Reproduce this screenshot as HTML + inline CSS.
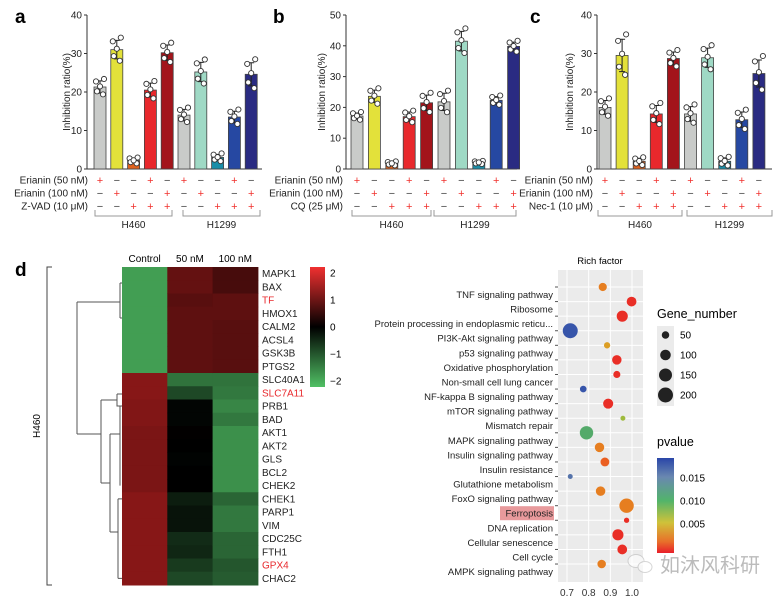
<!DOCTYPE html>
<html><head><meta charset="utf-8"><style>
body{margin:0;background:#fff;}
svg{display:block;font-family:"Liberation Sans","Noto Sans CJK SC",sans-serif;}
</style></head><body>
<svg id="fig" width="778" height="599" viewBox="0 0 778 599">
<rect width="778" height="599" fill="#fff"/>
</svg>
<script>
// ---------- bar chart data ----------
const barColors = ["#c9cbc9","#e3e13a","#e0621e","#e8282c","#a3141b","#c9cbc9","#9fd9c5","#1a8ea8","#2648a2","#2a2b82"];
const aVals = [21.3,31.0,2.2,20.5,30.2,14.0,25.2,3.0,13.5,24.6];
const aSd = [1.6,2.4,0.6,1.8,2.0,1.5,2.5,0.8,1.5,3.0];
const bVals = [17.2,23.6,1.8,17.0,21.5,21.8,41.5,2.1,22.3,39.8];
const bSd = [1.0,2.0,0.5,1.5,2.5,2.8,3.2,0.4,1.2,1.4];
const cVals = [16.0,29.5,2.0,14.3,28.7,14.3,28.9,2.0,12.8,24.8];
const cSd = [1.8,4.2,0.8,2.2,1.7,1.9,2.5,0.9,2.0,3.5];
const aTicks = [0,10,20,30,40];
const bTicks = [0,10,20,30,40,50];
const cTicks = [0,10,20,30,40];
const row50 = ["+","−","−","+","−","+","−","−","+","−"];
const row100 = ["−","+","−","−","+","−","+","−","−","+"];
const rowInh = ["−","−","+","+","+","−","−","+","+","+"];
const jx = [-4,4,-3,3,0];
const jy = [0.9,1.3,-0.7,-1.2,0.1];

// ---------- heatmap data ----------
const genes = ["MAPK1","BAX","TF","HMOX1","CALM2","ACSL4","GSK3B","PTGS2","SLC40A1","SLC7A11","PRB1","BAD","AKT1","AKT2","GLS","BCL2","CHEK2","CHEK1","PARP1","VIM","CDC25C","FTH1","GPX4","CHAC2"];
const redGenes = ["TF","SLC7A11","GPX4"];
const hmCols = ["Control","50 nM","100 nM"];
const hmControl = [-1.65,-1.65,-1.65,-1.65,-1.65,-1.65,-1.65,-1.65,1.15,1.15,1.1,1.1,1.05,1.05,1.05,1.05,1.05,1.15,1.15,1.15,1.15,1.15,1.15,1.15];
const hm50 = [0.85,0.85,0.75,0.8,0.8,0.8,0.8,0.8,-1.2,-0.75,-0.05,-0.05,0.02,0,-0.03,0,0,-0.3,-0.2,-0.2,-0.45,-0.4,-0.6,-0.75];
const hm100 = [0.6,0.6,0.8,0.8,0.75,0.75,0.75,0.75,-1.2,-1.25,-1.4,-1.25,-1.5,-1.5,-1.5,-1.5,-1.5,-1.05,-1.25,-1.25,-1.05,-1.05,-0.9,-0.95];
const hmTicks = [2,1,0,-1,-2];

// ---------- dot plot data ----------
const pathways = ["TNF signaling  pathway","Ribosome","Protein processing in endoplasmic reticu...","PI3K-Akt signaling pathway","p53 signaling pathway","Oxidative phosphorylation","Non-small cell lung cancer","NF-kappa B signaling pathway","mTOR signaling pathway","Mismatch repair","MAPK signaling pathway","Insulin signaling pathway","Insulin resistance","Glutathione metabolism","FoxO signaling pathway","Ferroptosis","DNA replication","Cellular senescence","Cell cycle","AMPK signaling pathway"];
const richFactor = [0.865,0.998,0.955,0.715,0.885,0.93,0.93,0.775,0.89,0.958,0.79,0.85,0.875,0.715,0.855,0.975,0.975,0.935,0.955,0.86];
const geneNumber = [60,85,110,200,35,80,45,40,90,22,160,80,70,22,80,185,25,110,85,65];
const pValue = [0.003,0.0005,0.0005,0.018,0.004,0.0005,0.0005,0.018,0.0005,0.007,0.011,0.003,0.002,0.016,0.003,0.003,0.0005,0.0005,0.0005,0.003];
const rfTicks = [0.7,0.8,0.9,1.0];
const sizeLegend = [50,100,150,200];
const pTicks = [0.015,0.010,0.005];

const NS="http://www.w3.org/2000/svg";
const svg=document.getElementById("fig");
function el(tag,attrs,parent){const e=document.createElementNS(NS,tag);for(const k in attrs)e.setAttribute(k,attrs[k]);(parent||svg).appendChild(e);return e;}
function txt(s,attrs,parent){const t=el("text",attrs,parent);t.textContent=s;return t;}

// ---------- bar panels ----------
function barPanel(cfg){
  const g=el("g",{});
  
  
  const y0=169,yTop=15,max=cfg.ticks[cfg.ticks.length-1];
  const ys=v=>y0-(v/max)*(y0-yTop);
  const xs=i=>cfg.x0+i*cfg.step;
  const lt=txt(cfg.letter,{x:cfg.lx,y:23,"font-size":19,"font-weight":"bold",fill:"#000"},g);
  
  
  const ya=el("line",{x1:cfg.ax,y1:yTop,x2:cfg.ax,y2:y0,stroke:"#333","stroke-width":1},g);
  
  
  const xa=el("line",{x1:cfg.ax,y1:y0,x2:cfg.axEnd,y2:y0,stroke:"#333","stroke-width":1},g);
  
  
  cfg.ticks.forEach(t=>{
    el("line",{x1:cfg.ax-3,y1:ys(t),x2:cfg.ax,y2:ys(t),stroke:"#333"},g);
    const tl=txt(String(t),{x:cfg.ax-5,y:ys(t)+3.5,"font-size":10,"text-anchor":"end",fill:"#222"},g);
    
    
  });
  const yt=txt("Inhibition ratio(%)",{x:0,y:0,"font-size":10,"text-anchor":"middle",fill:"#222",transform:`translate(${cfg.tx},92) rotate(-90)`},g);
  
  
  cfg.vals.forEach((v,i)=>{
    const cx=xs(i),w=12;
    const b=el("rect",{x:cx-w/2,y:ys(v),width:w,height:y0-ys(v),fill:barColors[i],stroke:"#444","stroke-width":0.8},g);
    
    
    const sd=cfg.sd[i];
    const eb=el("path",{d:`M${cx},${ys(v+sd)}V${ys(v-sd)}M${cx-3},${ys(v+sd)}H${cx+3}M${cx-3},${ys(v-sd)}H${cx+3}`,stroke:"#222","stroke-width":1,fill:"none"},g);
    
    
    for(let k=0;k<5;k++){
      const p=el("circle",{cx:cx+jx[k],cy:ys(v+jy[k]*sd),r:2.6,fill:"#fff",stroke:"#333","stroke-width":0.9},g);
      
      
    }
  });
  const rows=[[cfg.r1,row50,180],[cfg.r2,row100,193],[cfg.r3,rowInh,206]];
  rows.forEach(r=>{
    const rl=txt(r[0],{x:cfg.labX,y:r[2]+3.5,"font-size":10,"text-anchor":"end",fill:"#222"},g);
    
    
    r[1].forEach((s,i)=>{
      const st=txt(s,{x:xs(i),y:r[2]+4,"font-size":11,"text-anchor":"middle",fill:s==="+"?"#f0302c":"#444"},g);
      
      
    });
  });
  cfg.groups.forEach(gr=>{
    const br=el("path",{d:`M${gr[0]},210V216H${gr[1]}V210`,stroke:"#999",fill:"none","stroke-width":1},g);
    
    
    const gl=txt(gr[2],{x:(gr[0]+gr[1])/2,y:228,"font-size":10,"text-anchor":"middle",fill:"#222"},g);
    
    
  });
}
barPanel({name:"panel-a",letter:"a",lx:15,ax:87,axEnd:262,x0:100,step:16.8,ticks:aTicks,vals:aVals,sd:aSd,tx:70,labX:88,r1:"Erianin (50 nM)",r2:"Erianin (100 nM)",r3:"Z-VAD (10 μM)",groups:[[95,172,"H460"],[183,260,"H1299"]]});
barPanel({name:"panel-b",letter:"b",lx:273,ax:346,axEnd:517,x0:357,step:17.4,ticks:bTicks,vals:bVals,sd:bSd,tx:325,labX:343,r1:"Erianin (50 nM)",r2:"Erianin (100 nM)",r3:"CQ (25 μM)",groups:[[352,431,"H460"],[434,516,"H1299"]]});
barPanel({name:"panel-c",letter:"c",lx:530,ax:597,axEnd:772,x0:605,step:17.1,ticks:cTicks,vals:cVals,sd:cSd,tx:573,labX:593,r1:"Erianin (50 nM)",r2:"Erianin (100 nM)",r3:"Nec-1 (10 μM)",groups:[[598,682,"H460"],[687,772,"H1299"]]});

// ---------- heatmap ----------
(function(){
  const g=el("g",{});
  
  
  const d=txt("d",{x:15,y:276,"font-size":19,"font-weight":"bold"},g);
  
  
  const hx=122,cw=45.3,hy=267,rh=13.25;
  function col(v){
    const t=Math.max(-2,Math.min(2,v))/2;
    if(t>=0) return `rgb(${Math.round(235*t)},${Math.round(40*t)},${Math.round(40*t)})`;
    const a=-t; return `rgb(${Math.round(80*a)},${Math.round(192*a)},${Math.round(100*a)})`;
  }
  const cols=[hmControl,hm50,hm100];
  cols.forEach((arr,c)=>{
    const h=txt(hmCols[c],{x:hx+cw*c+cw/2,y:262,"font-size":10,"text-anchor":"middle"},g);
    
    
    arr.forEach((v,r)=>{
      const cell=el("rect",{x:hx+cw*c,y:hy+r*rh,width:cw+0.5,height:rh+0.5,fill:col(v)},g);
      
      
    });
  });
  genes.forEach((gn,r)=>{
    const t=txt(gn,{x:262,y:hy+r*rh+rh/2+3.5,"font-size":10,fill:redGenes.includes(gn)?"#e8282c":"#222"},g);
    
    
  });
  // colorbar
  const defs=el("defs",{},g);
  const lg=el("linearGradient",{id:"hmg",x1:0,y1:0,x2:0,y2:1},defs);
  [[0,"#f03030"],[0.5,"#000"],[1,"#50c064"]].forEach(s=>el("stop",{offset:s[0],"stop-color":s[1]},lg));
  const cb=el("rect",{x:310,y:267,width:15,height:120,fill:"url(#hmg)"},g);
  
  
  hmTicks.forEach(t=>{
    const y=267+6+(2-t)/4*108;
    const tl=txt(t<0?"−"+(-t):String(t),{x:330,y:y+3.5,"font-size":10},g);
    
    
  });
  // bracket + H460
  const br=el("path",{d:"M52,267H47V585H52",stroke:"#444",fill:"none"},g);
  
  
  const hl=txt("H460",{x:0,y:0,"font-size":10,"text-anchor":"middle",transform:"translate(40,426) rotate(-90)"},g);
  
  
  // dendrogram
  const yr=r=>hy+r*rh+rh/2;
  const dd=[
    `M77,302V434`,`M77,302H120`,`M77,434H101`,
    `M120,283V318`,`M120,283H122`,`M120,318H122`,
    `M101,400V483`,`M101,400H117`,`M101,483H110`,
    `M117,394V406H122`,`M117,394H122`,
    `M110,434V532`,`M110,434H120`,`M110,532H118`,
    `M120,${yr(10)}V${yr(16)}`,`M118,${yr(17)}V${yr(23)}`,`M118,${yr(17)}H122`,`M118,${yr(23)}H122`
  ];
  const dp=el("path",{d:dd.join(""),stroke:"#555",fill:"none","stroke-width":1},g);
  
  
})();

// ---------- dot plot ----------
(function(){
  const g=el("g",{});
  
  
  const px0=558,px1=643,py0=270,py1=582;
  const xs=v=>567+(v-0.7)/0.3*65;
  const yRow=i=>287+i*14.58;
  const bg=el("rect",{x:px0,y:py0,width:px1-px0,height:py1-py0,fill:"#ebebeb"},g);
  
  
  rfTicks.forEach(t=>{
    el("line",{x1:xs(t),y1:py0,x2:xs(t),y2:py1,stroke:"#fff","stroke-width":1},g);
    const tl=txt(t.toFixed(1),{x:xs(t),y:596,"font-size":10,"text-anchor":"middle",fill:"#333"},g);
    
    
  });
  pathways.forEach((p,i)=>{
    el("line",{x1:px0,y1:yRow(i),x2:px1,y2:yRow(i),stroke:"#fff","stroke-width":1},g);
    el("line",{x1:px0-3,y1:yRow(i),x2:px0,y2:yRow(i),stroke:"#555"},g);
    if(p==="Ferroptosis"){
      const hl=el("rect",{x:500,y:yRow(i)+0.5,width:54,height:14,fill:"#e89a9c"},g);
      
      
    }
    const t=txt(p,{x:553,y:yRow(i)+11,"font-size":9.5,"text-anchor":"end",fill:"#222"},g);
    
    
  });
  const title=txt("Rich factor",{x:600,y:264,"font-size":9.5,"text-anchor":"middle"},g);
  
  
  function pcol(p){
    const stops=[[0,[232,30,40]],[0.0025,[235,110,30]],[0.005,[210,190,40]],[0.010,[80,180,90]],[0.015,[100,130,170]],[0.019,[40,70,170]]];
    for(let k=1;k<stops.length;k++){ if(p<=stops[k][0]){const a=stops[k-1],b=stops[k],t=(p-a[0])/(b[0]-a[0]);return `rgb(${a[1].map((c,j)=>Math.round(c+(b[1][j]-c)*t)).join(",")})`;}}
    return "rgb(40,70,170)";
  }
  const rs=n=>Math.sqrt(n)*0.53;
  richFactor.forEach((v,i)=>{
    const c=el("circle",{cx:xs(v),cy:yRow(i),r:rs(geneNumber[i]),fill:pcol(pValue[i])},g);
    
    
  });
  // size legend
  const gt=txt("Gene_number",{x:657,y:318,"font-size":12.5},g);
  
  
  el("rect",{x:657,y:326,width:17,height:80,fill:"#ebebeb"},g);
  sizeLegend.forEach((s,k)=>{
    const y=335+k*20;
    const c=el("circle",{cx:665.5,cy:y,r:rs(s),fill:"#222"},g);
    
    
    txt(String(s),{x:680,y:y+3.5,"font-size":10},g);
  });
  const pt=txt("pvalue",{x:657,y:446,"font-size":12.5},g);
  
  
  const defs=el("defs",{},g);
  const lg=el("linearGradient",{id:"pg",x1:0,y1:0,x2:0,y2:1},defs);
  [[0,"#2a46a8"],[0.2,"#6a88b0"],[0.45,"#52b46a"],[0.68,"#cfc23a"],[0.88,"#e8702a"],[1,"#e81e2a"]].forEach(s=>el("stop",{offset:s[0],"stop-color":s[1]},lg));
  const cb=el("rect",{x:657,y:458,width:17,height:95,fill:"url(#pg)"},g);
  
  
  pTicks.forEach((t,k)=>{
    const y=478+k*23;
    const tl=txt(t.toFixed(3),{x:680,y:y+3.5,"font-size":10},g);
    
    
  });
  const wm=txt("如沐风科研",{x:660,y:572,"font-size":20,fill:"#bbb","font-family":"Noto Sans CJK SC, sans-serif"},g);
  
  
  const wi=el("g",{opacity:0.6},g);
  
  
  el("ellipse",{cx:636,cy:561,rx:8,ry:6.5,fill:"#fff",stroke:"#bbb"},wi);
  el("ellipse",{cx:645,cy:567,rx:7,ry:5.5,fill:"#fff",stroke:"#bbb"},wi);
})();
</script>
</body></html>
